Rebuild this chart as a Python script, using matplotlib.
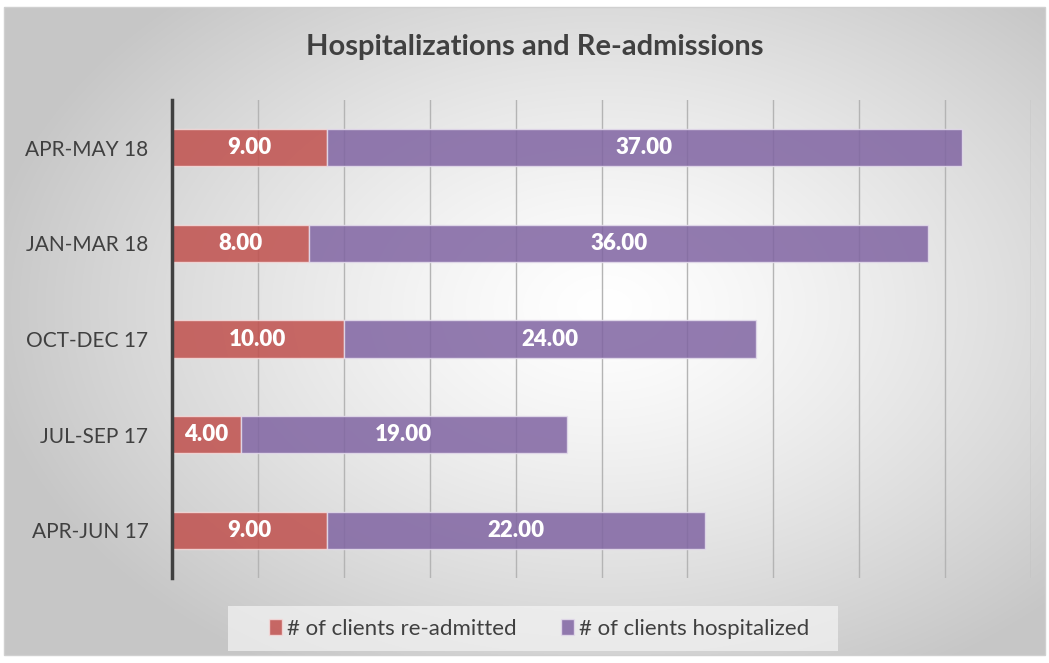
import numpy as np
import matplotlib
matplotlib.use("Agg")
import matplotlib.pyplot as plt
from matplotlib.patches import Rectangle, Patch

plt.rcParams['font.family'] = ['Lato', 'DejaVu Sans']

# data
periods = ["APR-JUN 17", "JUL-SEP 17", "OCT-DEC 17", "JAN-MAR 18", "APR-MAY 18"]
readmitted = [9, 4, 10, 8, 9]
hospitalized = [22, 19, 24, 36, 37]

C_RED = "#C0504D"
C_PUR = "#8064A2"
C_TXT = "#404040"

W, H = 1049, 663
fig = plt.figure(figsize=(W / 100, H / 100), dpi=100)
fig.patch.set_facecolor("white")

# background frame with radial gradient
bg = fig.add_axes([4 / W, 1 - 655 / H, 1041 / W, 648 / H])
yy, xx = np.mgrid[0:648, 0:1041]
cx, cy = 600, 300
d = np.sqrt(((xx - cx) / 620.0) ** 2 + ((yy - cy) / 420.0) ** 2)
d = np.clip(d, 0, 1)
v = 1.0 - 0.22 * d ** 1.3
bg.imshow(np.dstack([v, v, v]), aspect="auto", interpolation="bilinear")
bg.set_axis_off()
fig.add_artist(Rectangle((4 / W, 1 - 655 / H), 1041 / W, 648 / H,
                         transform=fig.transFigure, fill=False,
                         edgecolor="#d0d0d0", lw=1.0))

# main axes
ax = fig.add_axes([172 / W, 1 - 578 / H, (1031 - 172) / W, 478 / H])
ax.set_facecolor("none")
y = np.arange(len(periods))
bh = 0.39
b1 = ax.barh(y, readmitted, height=bh, color=C_RED, alpha=0.85,
             edgecolor="#f4dcdc", linewidth=1.0, zorder=3)
b2 = ax.barh(y, hospitalized, left=readmitted, height=bh, color=C_PUR,
             alpha=0.85, edgecolor="#e4dcec", linewidth=1.0, zorder=3)

for bars, vals in ((b1, readmitted), (b2, hospitalized)):
    for rect, val in zip(bars, vals):
        ax.text(rect.get_x() + rect.get_width() / 2,
                rect.get_y() + rect.get_height() / 2,
                f"{val:.2f}", ha="center", va="center", color="white",
                fontsize=16, fontweight="heavy", zorder=4)

ax.set_xlim(0, 50)
ax.set_ylim(-0.5, len(periods) - 0.5)
ax.set_xticks(np.arange(5, 51, 5))
ax.xaxis.grid(True, color="#b4b4b4", lw=1.0, zorder=1)
ax.tick_params(axis="x", length=0, labelbottom=False)
ax.tick_params(axis="y", length=0, pad=17, labelsize=15, labelcolor=C_TXT)
ax.set_yticks(y)
ax.set_yticklabels(periods)
for s in ["top", "right", "bottom"]:
    ax.spines[s].set_visible(False)
ax.spines["left"].set_color("#404040")
ax.spines["left"].set_linewidth(2.5)
ax.spines["left"].set_zorder(5)

fig.text(535 / W, 1 - 47 / H, "Hospitalizations and Re-admissions",
         ha="center", va="center", fontsize=21, fontweight="bold",
         color=C_TXT)

# legend box
fig.add_artist(Rectangle((228 / W, 1 - 651 / H), 610 / W, 45 / H,
                         transform=fig.transFigure, facecolor="#f4f4f4",
                         alpha=0.7, edgecolor="none"))
handles = [Patch(facecolor=C_RED, alpha=0.85, edgecolor="#f4dcdc"),
           Patch(facecolor=C_PUR, alpha=0.85, edgecolor="#e4dcec")]
fig.legend(handles, ["# of clients re-admitted", "# of clients hospitalized"],
           loc="center", bbox_to_anchor=(539 / W, 1 - 629 / H), ncol=2,
           frameon=False, fontsize=16, labelcolor=C_TXT,
           handlelength=0.6, handleheight=0.75, handletextpad=0.2,
           columnspacing=2.0)

fig.savefig("out.png", dpi=100, facecolor="white")
